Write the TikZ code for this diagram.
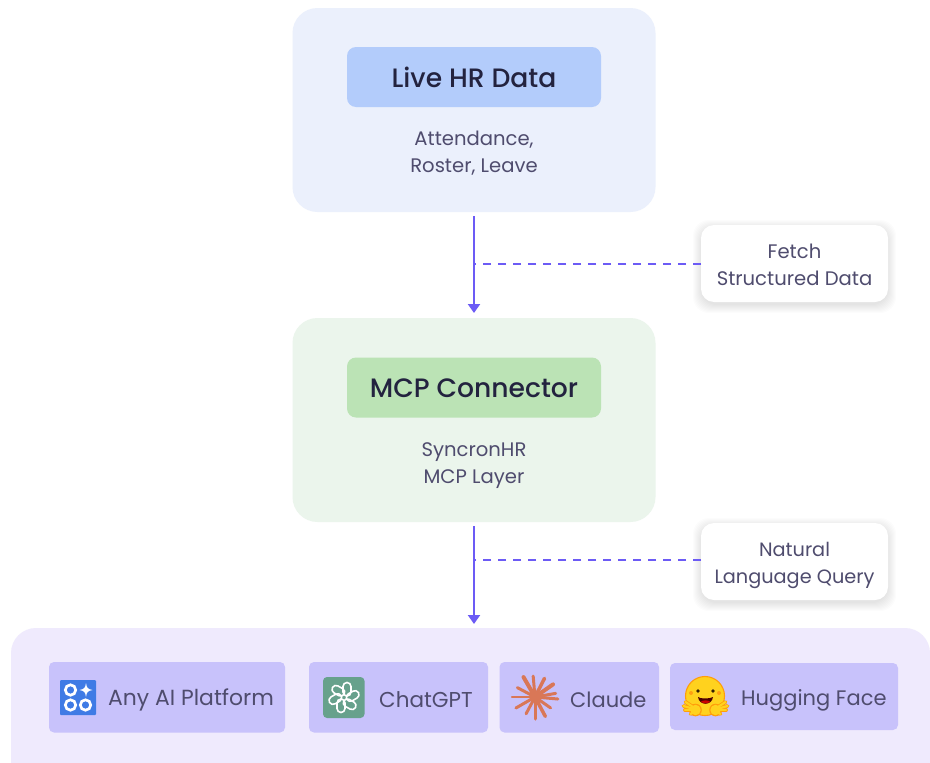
\documentclass[tikz,border=0pt]{standalone}
\usepackage{fontspec}
\setmainfont{Poppins}
\newfontfamily\medfont{Poppins Medium}
\usetikzlibrary{arrows.meta}
\definecolor{topPanel}{HTML}{EBF0FC}
\definecolor{topInner}{HTML}{B3CCFB}
\definecolor{midPanel}{HTML}{EBF5EC}
\definecolor{midInner}{HTML}{BBE3B5}
\definecolor{botPanel}{HTML}{EFEAFD}
\definecolor{chip}{HTML}{C8C2FB}
\definecolor{flowC}{HTML}{6C5BF5}
\definecolor{titleC}{HTML}{23233F}
\definecolor{bodyC}{HTML}{4F4C6E}
\definecolor{aiBlue}{HTML}{3F7BE5}
\definecolor{gptGreen}{HTML}{67A18C}
\definecolor{claudeC}{HTML}{D97757}
\definecolor{hfY}{HTML}{FFD21E}
\definecolor{hfO}{HTML}{FF9D0B}
\tikzset{
  x=1pt,y=-1pt,
  box/.style={rounded corners=#1,inner sep=0pt,outer sep=0pt},
  panel/.style={box=25pt,minimum width=363pt,minimum height=204pt},
  inner/.style={box=9pt,minimum width=254pt,minimum height=60pt},
  titletext/.style={font=\medfont\fontsize{26.6}{30}\selectfont,text=titleC,inner sep=0pt},
  body/.style={align=center,font=\fontsize{19.6}{27}\selectfont,text=bodyC,inner sep=0pt},
  chipbox/.style={rounded corners=5pt,fill=chip},
  chiptext/.style={font=\fontsize{#1}{24}\selectfont,text=bodyC,inner sep=0pt,anchor=west},
  note/.style={box=13pt,fill=white,minimum width=187pt,minimum height=77pt},
  flowarrow/.style={draw=flowC,line width=2.1pt,-{Triangle[length=9pt,width=12pt]}},
  dashline/.style={draw=flowC,line width=1.6pt,dash pattern=on 8pt off 7pt},
  halo/.style={fill=black,opacity=0.012,rounded corners=16pt},
}
\newcommand{\softshadow}[4]{%
  \foreach \g in {0,1,...,8}{
    \fill[halo] (#1-\g,#2-\g+3) rectangle (#3+\g,#4+\g+3);
  }}
\begin{document}
\begin{tikzpicture}
\useasboundingbox (0,0) rectangle (930,763);
\fill[white] (0,0) rectangle (930,763);

% panels
\node[panel,fill=topPanel] (top) at (474,110) {};
\node[inner,fill=topInner] (topin) at (474,77) {};
\node[titletext] (toptitle) at (474,77.5) {Live HR Data};
\node[body] (topbody) at (474,153) {Attendance,\\Roster, Leave};

\node[panel,fill=midPanel] (mid) at (474,420) {};
\node[inner,fill=midInner] (midin) at (474,387.5) {};
\node[titletext] (midtitle) at (474,388.5) {MCP Connector};
\node[body] (midbody) at (474,466) {SyncronHR\\MCP Layer};

\begin{scope}
\clip (0,0) rectangle (930,763);
\fill[botPanel,rounded corners=25pt] (11,628) rectangle (930,790);
\end{scope}
\coordinate (bot) at (474,628);

% connectors
\coordinate (j1) at (474,264);
\coordinate (j2) at (474,560);
\softshadow{701}{225}{888}{302}
\softshadow{701}{523}{888}{600}
\node[note] (n1) at (794.5,263.5) {};
\node[note] (n2) at (794.5,561.5) {};
\node[body] (n1text) at (794.5,264.5) {Fetch\\Structured Data};
\node[body,font=\fontsize{19.3}{27}\selectfont] (n2text) at (794.5,565.5) {Natural\\Language Query};
\draw[dashline] (n1.west |- j1) -- (j1);
\draw[dashline] (n2.west |- j2) -- (j2);
\draw[flowarrow] ([yshift=-4pt]top.south) -- ([yshift=5pt]mid.north);
\draw[flowarrow] ([yshift=-4pt]mid.south) -- ([yshift=4pt]bot);

% chips
\fill[chipbox] (49,662) rectangle (285,732.5);
\fill[chipbox] (309,662) rectangle (488,732.5);
\fill[chipbox] (499.5,662) rectangle (659,732.5);
\fill[chipbox] (670,663) rectangle (898,730);
\node[chiptext=21.9] (t1) at (108,700) {Any AI Platform};
\node[chiptext=21.5] (t2) at (379,700) {ChatGPT};
\node[chiptext=21] (t3) at (570,700) {Claude};
\node[chiptext=21] (t4) at (741,700) {Hugging Face};

% any AI icon
\fill[aiBlue,rounded corners=1pt] (60,680) rectangle (96,715);
\draw[white,line width=2.7pt] (70.5,690) circle (5.2);
\draw[white,line width=2.7pt] (70.5,705) circle (5.2);
\draw[white,line width=2.7pt] (85.5,705) circle (5.2);
\fill[white] (86,683) .. controls (86.6,687.8) and (87.8,689.2) .. (92.5,690)
  .. controls (87.8,690.8) and (86.6,692.2) .. (86,697)
  .. controls (85.4,692.2) and (84.2,690.8) .. (79.5,690)
  .. controls (84.2,689.2) and (85.4,687.8) .. (86,683) -- cycle;

% ChatGPT icon
\fill[gptGreen,rounded corners=4pt] (323,677) rectangle (364.5,718);
\begin{scope}[shift={(344,697.5)}]
  \foreach \a in {0,60,...,300}{
    \begin{scope}[rotate=\a]
      \draw[white,line width=1.6pt,rounded corners=4pt] (-1,-15) rectangle (7,-1.5);
    \end{scope}
  }
\end{scope}

% Claude icon
\foreach \a/\r/\w in {5/23/3,35/19/3,62/22/3.5,90/22/3,118/19/3,150/22/3,180/23/2.5,208/20/3,240/23/4,265/21/3,297/21/3.5,325/22/4,350/21/3}{
  \draw[claudeC,line width=\w pt,line cap=round] (535,697) -- ++(\a:\r);
}

% Hugging Face icon
\fill[hfY,draw=hfO,line width=1.1pt] (705,696) circle (19.5);
\fill[black!80!hfO] (698,691) circle (1.9);
\fill[black!80!hfO] (713,691) circle (1.9);
\fill[hfO!80!red,opacity=.6] (691,693) circle (2);
\fill[hfO!80!red,opacity=.6] (719,693) circle (2);
\fill[black!70!red] (698,697) .. controls (700,699) and (710,699) .. (713,697)
  .. controls (712,706) and (699,706) .. (698,697) -- cycle;
\fill[red!80!black] (701,701.5) .. controls (703,700) and (708,700) .. (710,701.5)
  .. controls (708,704) and (703,704) .. (701,701.5) -- cycle;
\foreach \s in {1,-1}{
  \begin{scope}[shift={(705.5,0)},xscale=\s]
    \foreach \yy/\xx in {702/20,706/22,710/20.5,714/15}{
      \draw[hfO,line width=3.8pt,line cap=round] (8,710) -- (\xx,\yy);
    }
    \fill[hfO] (10,710) circle (6.3);
    \foreach \yy/\xx in {702/20,706/22,710/20.5,714/15}{
      \draw[hfY,line width=2.2pt,line cap=round] (8,710) -- (\xx,\yy);
    }
    \fill[hfY] (10,710) circle (5.2);
  \end{scope}
}
\end{tikzpicture}
\end{document}
